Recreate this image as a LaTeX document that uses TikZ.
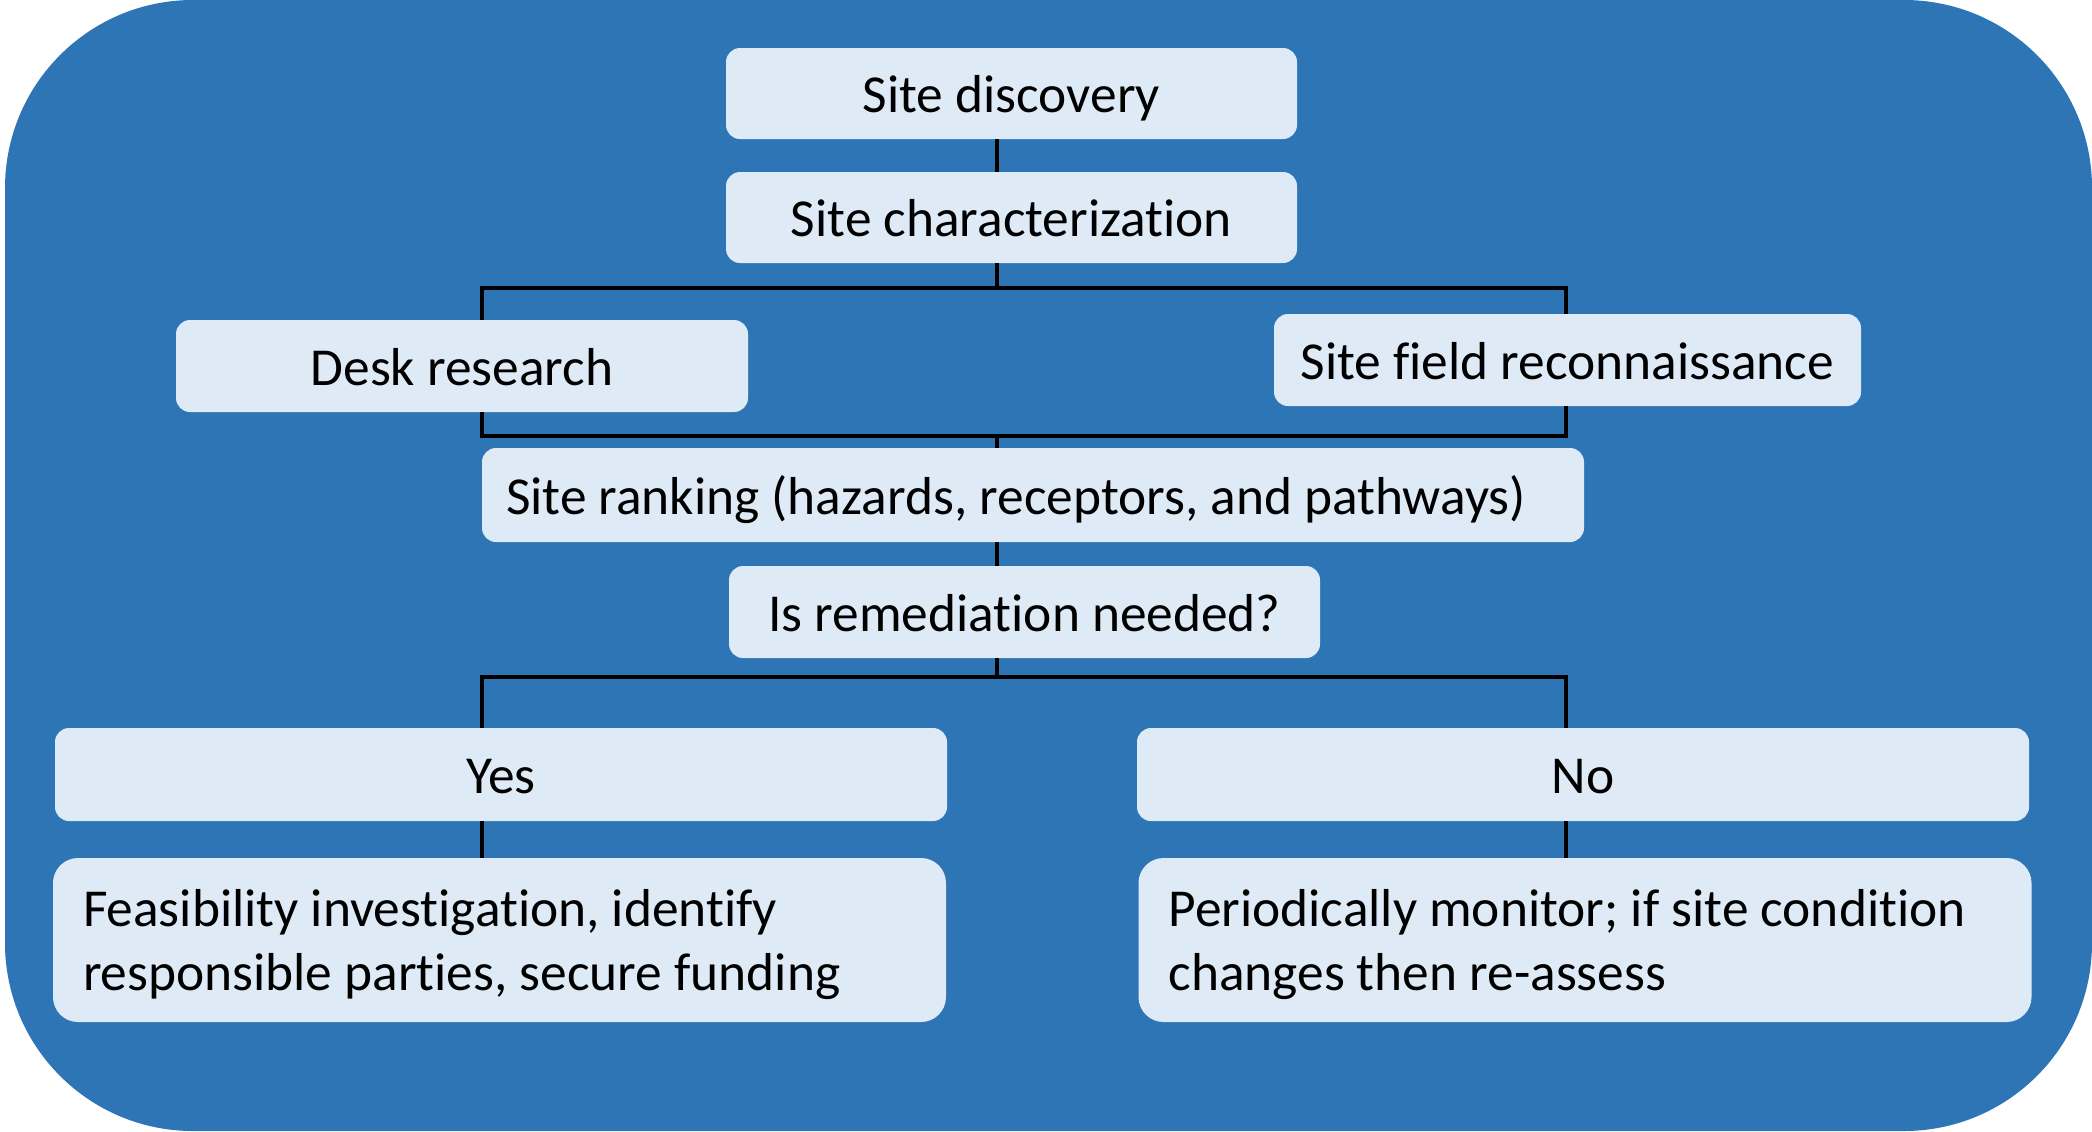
\documentclass[tikz,border=0pt]{standalone}
\usepackage{fontspec}
\setmainfont{Carlito}[Ligatures=NoCommon]
\definecolor{panelblue}{HTML}{2E75B6}
\definecolor{boxfill}{HTML}{DEEBF7}
\tikzset{
  boxbase/.style={draw=none, fill=boxfill, inner sep=0pt,
    font=\fontsize{26.7}{31.8}\selectfont, text=black},
  stepbox/.style={boxbase, rounded corners=7pt, text height=21pt, text depth=2pt},
  tallbox/.style={boxbase, rounded corners=12.5pt, align=flush left, inner xsep=15pt,
    text width=416.5pt, minimum height=82pt, text depth=32pt},
  link/.style={draw=black, line width=1.7pt},
}
\begin{document}
\begin{tikzpicture}[x=0.5pt, y=-0.5pt]
  \useasboundingbox (0,0) rectangle (2092,1131);
  % panel
  \fill[panelblue, rounded corners=94pt] (5,0) rectangle (2092,1131);

  % column guides and bus levels for the connectors
  \coordinate (xl) at (482,0);
  \coordinate (xc) at (997,0);
  \coordinate (xr) at (1566,0);
  \coordinate (bus1) at (0,288);
  \coordinate (bus2) at (0,436);
  \coordinate (bus3) at (0,677);

  % steps
  \node[stepbox, minimum width=285.5pt, minimum height=45.5pt] (disc) at (1011.5,93.5) {Site discovery};
  \node[stepbox, minimum width=285.5pt, minimum height=45.5pt] (char) at (1011.5,217.5) {Site characterization};
  \node[stepbox, minimum width=286pt, minimum height=46pt] (desk) at (462,366) {Desk research};
  \node[stepbox, minimum width=293.5pt, minimum height=46pt] (field) at (1567.5,360) {Site field reconnaissance};
  \node[stepbox, minimum height=47pt, inner xsep=12pt, text width=527pt, align=flush left] (rank) at (1033,495) {Site ranking (hazards, receptors, and pathways)};
  \node[stepbox, minimum width=295.5pt, minimum height=46pt] (need) at (1024.5,612) {Is remediation needed?};
  \node[stepbox, minimum width=446pt, minimum height=46.5pt] (yes) at (501,774.5) {Yes};
  \node[stepbox, minimum width=446pt, minimum height=46.5pt] (no) at (1583,774.5) {No};
  \node[tallbox] (feas) at (499.5,940) {Feasibility investigation, identify\\responsible parties, secure funding};
  \node[tallbox] (mon) at (1585,940) {Periodically monitor; if site condition\\changes then re-assess};

  % connectors
  \draw[link] (disc.south -| xc) -- (char.north -| xc);
  \draw[link] (char.south -| xc) -- (xc |- bus1);
  \draw[link] (desk.north -| xl) -- (xl |- bus1) -- (xr |- bus1) -- (field.north -| xr);
  \draw[link] (desk.south -| xl) -- (xl |- bus2) -- (xr |- bus2) -- (field.south -| xr);
  \draw[link] (xc |- bus2) -- (rank.north -| xc);
  \draw[link] (rank.south -| xc) -- (need.north -| xc);
  \draw[link] (need.south -| xc) -- (xc |- bus3);
  \draw[link] (yes.north -| xl) -- (xl |- bus3) -- (xr |- bus3) -- (no.north -| xr);
  \draw[link] (yes.south -| xl) -- (feas.north -| xl);
  \draw[link] (no.south -| xr) -- (mon.north -| xr);
\end{tikzpicture}
\end{document}
